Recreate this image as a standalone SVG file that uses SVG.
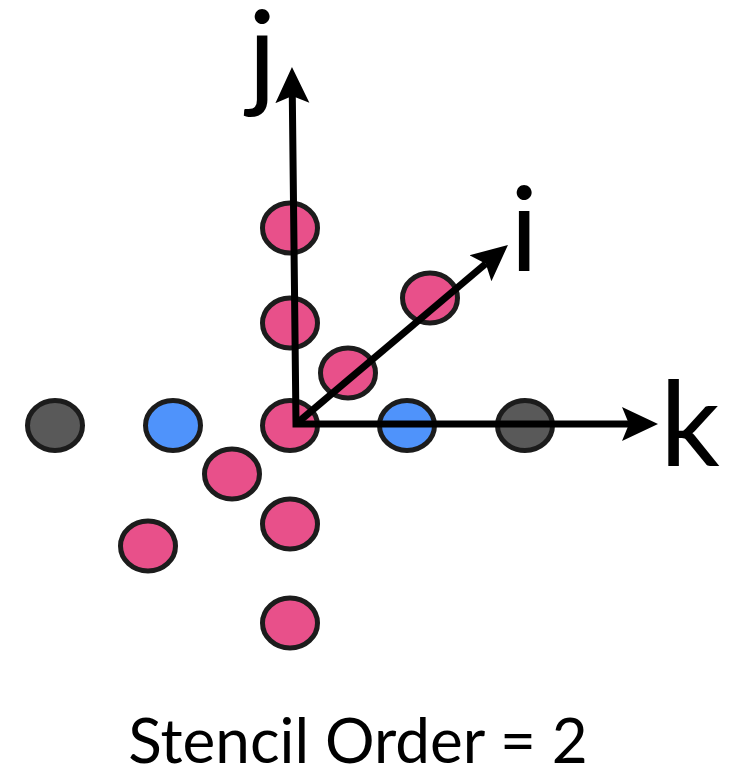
<svg xmlns="http://www.w3.org/2000/svg" width="739" height="767" viewBox="0 0 739 767">
<style>
.pt{stroke:#1c1c1c;stroke-width:5}
.pink{fill:#E8508A}
.blue{fill:#4F93FB}
.gray{fill:#595959}
.ax{fill:none;stroke:#000;stroke-width:7;stroke-linejoin:miter}
.lbl{font-family:Lato,"Liberation Sans",sans-serif;font-size:118px;fill:#000}
.cap{font-family:Lato,"Liberation Sans",sans-serif;font-size:62px;fill:#000}
</style>
<defs>
<marker id="ah" markerUnits="userSpaceOnUse" viewBox="0 -20 40 40" markerWidth="40" markerHeight="40" refX="7" refY="0" orient="auto-start-reverse">
<path d="M0,-17 L36,0 L0,17 L7,0 Z" fill="#000"/>
</marker>
</defs>
<g id="points">
<g id="n_gray_left"><ellipse class="pt gray" cx="55" cy="425.5" rx="27.5" ry="25"/></g>
<g id="n_blue_left"><ellipse class="pt blue" cx="173" cy="425.5" rx="27.5" ry="25"/></g>
<g id="n_center"><ellipse class="pt pink" cx="290" cy="425.5" rx="27.5" ry="25"/></g>
<g id="n_blue_right"><ellipse class="pt blue" cx="407" cy="425.5" rx="27.5" ry="25"/></g>
<g id="n_gray_right"><ellipse class="pt gray" cx="525" cy="425.5" rx="27.5" ry="25"/></g>
<g id="n_j1"><ellipse class="pt pink" cx="290" cy="323" rx="27.5" ry="25"/></g>
<g id="n_j2"><ellipse class="pt pink" cx="290" cy="228" rx="27.5" ry="25"/></g>
<g id="n_i1"><ellipse class="pt pink" cx="348" cy="373" rx="27.5" ry="25"/></g>
<g id="n_i2"><ellipse class="pt pink" cx="430" cy="298" rx="27.5" ry="25"/></g>
<g id="n_im1"><ellipse class="pt pink" cx="232" cy="474" rx="27.5" ry="25"/></g>
<g id="n_im2"><ellipse class="pt pink" cx="148" cy="546" rx="27.5" ry="25"/></g>
<g id="n_jm1"><ellipse class="pt pink" cx="290" cy="524" rx="27.5" ry="25"/></g>
<g id="n_jm2"><ellipse class="pt pink" cx="290" cy="623" rx="27.5" ry="25"/></g>
</g>
<g id="connectors">
<polyline class="ax" points="292.3,96 296,424 629,424" marker-start="url(#ah)" marker-end="url(#ah)"/>
<line class="ax" x1="296" y1="424" x2="485.8" y2="263.7" marker-end="url(#ah)"/>
</g>
<g id="labels">
<text class="lbl" x="248" y="96">j</text>
<text class="lbl" x="510" y="272">i</text>
<text class="lbl" x="660" y="466">k</text>
<text class="cap" x="358" y="763" text-anchor="middle">Stencil Order = 2</text>
</g>
</svg>
